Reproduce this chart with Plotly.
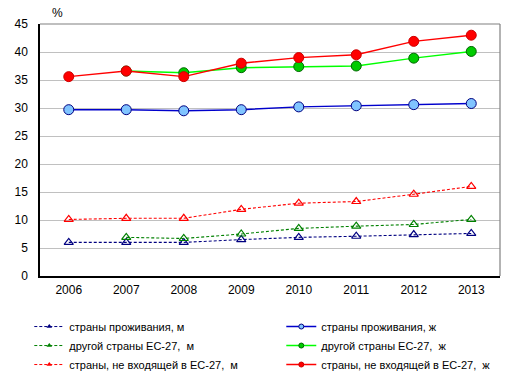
import plotly.graph_objects as go

years = ["2006", "2007", "2008", "2009", "2010", "2011", "2012", "2013"]

res_m = [6.0, 6.0, 6.0, 6.5, 6.9, 7.1, 7.4, 7.6]
res_f = [29.7, 29.7, 29.5, 29.7, 30.2, 30.4, 30.6, 30.8]
eu_m = [None, 6.9, 6.7, 7.5, 8.5, 8.9, 9.2, 10.1]
eu_f = [None, 36.6, 36.3, 37.2, 37.4, 37.5, 38.9, 40.1]
noneu_m = [10.1, 10.3, 10.3, 11.9, 13.0, 13.3, 14.6, 16.0]
noneu_f = [35.6, 36.6, 35.6, 38.0, 39.0, 39.5, 41.9, 43.0]

names = [
    "страны проживания, м",
    "страны проживания, ж",
    "другой страны ЕС-27,  м",
    "другой страны ЕС-27,  ж",
    "страны, не входящей в ЕС-27,  м",
    "страны, не входящей в ЕС-27,  ж",
]

fig = go.Figure()
DASH = "3px,2px"

def male(y, name, color):
    fig.add_trace(go.Scatter(
        x=years, y=y, name=name, mode="lines+markers", showlegend=False,
        line=dict(color=color, width=1.1, dash=DASH),
        marker=dict(symbol="triangle-up-open", size=8, color=color, line=dict(width=1.2, color=color)),
    ))
    fig.add_trace(go.Scatter(
        x=[None], y=[None], name=name, mode="lines+markers",
        line=dict(color=color, width=1, dash=DASH),
        marker=dict(symbol="triangle-up", size=5, color=color),
    ))

def female(y, name, lcolor, fill, border):
    fig.add_trace(go.Scatter(
        x=years, y=y, name=name, mode="lines+markers", showlegend=False,
        line=dict(color=lcolor, width=1.4),
        marker=dict(symbol="circle", size=10, color=fill, line=dict(width=1, color=border)),
    ))
    fig.add_trace(go.Scatter(
        x=[None], y=[None], name=name, mode="lines+markers",
        line=dict(color=lcolor, width=1.4),
        marker=dict(symbol="circle", size=5, color=fill, line=dict(width=1, color=border)),
    ))

male(res_m, names[0], "#000080")
female(res_f, names[1], "#0000CC", "#80C4FF", "#000080")
male(eu_m, names[2], "#008000")
female(eu_f, names[3], "#00FF00", "#00CC00", "#006600")
male(noneu_m, names[4], "#FF0000")
female(noneu_f, names[5], "#FF0000", "#FF0000", "#CC0000")

fig.update_layout(
    width=516, height=372,
    margin=dict(l=40, r=16, t=24, b=96, autoexpand=False),
    paper_bgcolor="white", plot_bgcolor="white",
    font=dict(family="Liberation Sans, Arial, sans-serif", size=12, color="black"),
    showlegend=True,
    legend=dict(
        orientation="h", x=-0.0233, y=-0.143, xanchor="left", yanchor="top",
        entrywidth=207, entrywidthmode="pixels",
        font=dict(size=11), tracegroupgap=0,
        bgcolor="rgba(0,0,0,0)",
    ),
    xaxis=dict(
        type="category", range=[-0.5, 7.5], showgrid=False,
        showline=True, linecolor="black", linewidth=1.5,
        ticks="outside", ticklen=2, tickcolor="rgba(0,0,0,0)",
        tickfont=dict(size=12), zeroline=False,
    ),
    yaxis=dict(
        range=[0, 45], dtick=5, showgrid=True, gridcolor="#C0C0C0", gridwidth=1,
        showline=True, linecolor="black", linewidth=1.5,
        ticks="outside", ticklen=8, tickcolor="rgba(0,0,0,0)",
        tickfont=dict(size=12), zeroline=False,
    ),
    annotations=[dict(
        text="%", xref="paper", yref="paper", x=0.022, y=1.008,
        xanchor="left", yanchor="bottom", showarrow=False, font=dict(size=12),
    )],
    shapes=[
        dict(type="line", xref="paper", yref="paper", x0=0, x1=1, y0=1, y1=1,
             line=dict(color="#808080", width=1.2)),
        dict(type="line", xref="paper", yref="paper", x0=1, x1=1, y0=0, y1=1,
             line=dict(color="#808080", width=1.2)),
    ],
)

fig.write_html("out.html", config={"displayModeBar": False},
               post_script="document.body.style.margin='0px';")
